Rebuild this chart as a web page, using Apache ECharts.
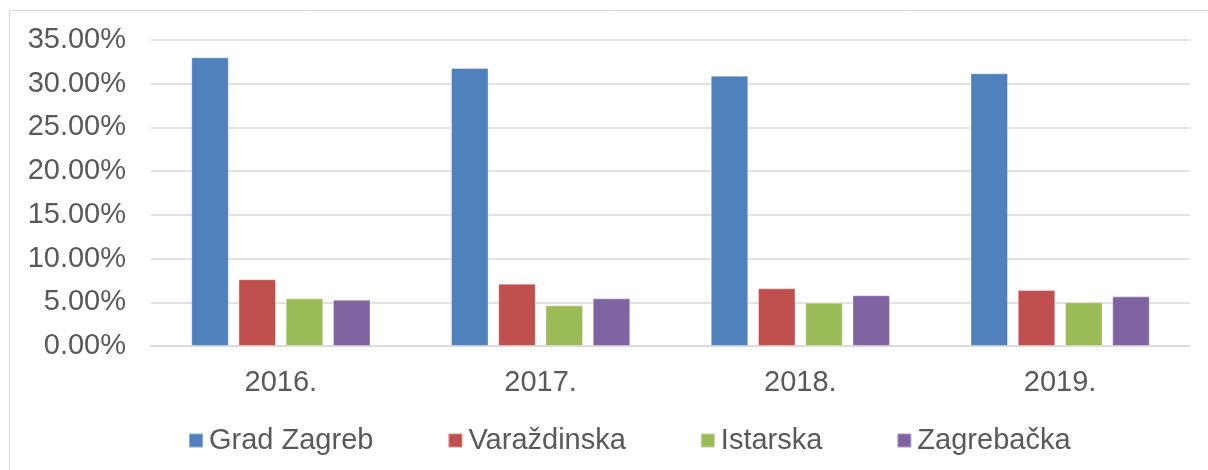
<!DOCTYPE html>
<html>
<head>
<meta charset="utf-8">
<script src="https://cdn.jsdelivr.net/npm/echarts@6/dist/echarts.min.js"></script>
<style>
html,body{margin:0;padding:0;background:#fff;}
#chart{width:1208px;height:470px;}
</style>
</head>
<body>
<div id="chart"></div>
<script>
var categories = ['2016.', '2017.', '2018.', '2019.'];
var seriesNames = ['Grad Zagreb', 'Varaždinska', 'Istarska', 'Zagrebačka'];
var gradZagreb = [0.3302, 0.3180, 0.3092, 0.3119];
var varazdinska = [0.0763, 0.0713, 0.0660, 0.0640];
var istarska = [0.0545, 0.0465, 0.0495, 0.0500];
var zagrebacka = [0.0530, 0.0545, 0.0580, 0.0568];
var yTicks = { min: 0, max: 0.35, interval: 0.05 };
var colors = ['#4F81BD', '#C0504D', '#9BBB59', '#8064A2'];

var values = [gradZagreb, varazdinska, istarska, zagrebacka];
var font = 'Liberation Sans, Arial, sans-serif';
var textColor = '#595959';

var chart = echarts.init(document.getElementById('chart'), null, { renderer: 'canvas' });
chart.setOption({
  animation: false,
  color: colors,
  graphic: [{
    type: 'rect',
    shape: { x: 9.5, y: 10.5, width: 1300, height: 600 },
    style: { fill: 'none', stroke: '#d9d9d9', lineWidth: 1 },
    silent: true,
    z: -1
  }],
  grid: { left: 151, right: 18, top: 40, bottom: 124, containLabel: false },
  legend: {
    left: 183,
    top: 421,
    itemWidth: 14,
    itemHeight: 14,
    itemGap: 74,
    icon: 'rect',
    textStyle: { fontFamily: font, fontSize: 29, color: textColor, padding: [0, 0, 0, 1] },
    data: seriesNames
  },
  xAxis: {
    type: 'category',
    data: categories,
    axisLine: { show: true, lineStyle: { color: '#d9d9d9', width: 1.5 } },
    axisTick: { show: false },
    axisLabel: { fontFamily: font, fontSize: 29, color: textColor, margin: 22 }
  },
  yAxis: {
    type: 'value',
    min: yTicks.min,
    max: yTicks.max,
    interval: yTicks.interval,
    axisLine: { show: false },
    axisTick: { show: false },
    splitLine: { lineStyle: { color: '#d9d9d9', width: 1.5 } },
    axisLabel: {
      fontFamily: font, fontSize: 29, color: textColor, margin: 25,
      formatter: function (v) { return (v * 100).toFixed(2) + '%'; }
    }
  },
  series: seriesNames.map(function (name, i) {
    return {
      name: name,
      type: 'bar',
      data: values[i],
      barGap: '26%',
      barCategoryGap: '31%',
      itemStyle: { color: colors[i], borderColor: 'rgba(255,255,255,0.35)', borderWidth: 1 }
    };
  })
});
</script>
</body>
</html>
